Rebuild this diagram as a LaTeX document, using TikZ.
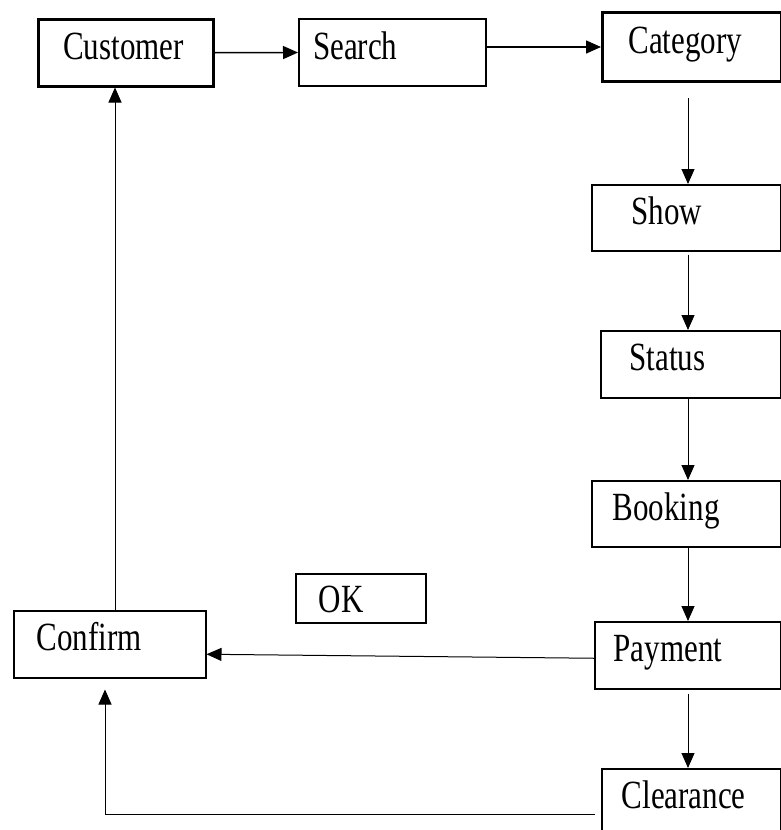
\documentclass[tikz,border=0pt]{standalone}
\usepackage{fontspec}
\setmainfont{Liberation Serif}
\newfontfamily\boxserif[FakeStretch=0.775]{Liberation Serif}
\usetikzlibrary{arrows.meta}
\usetikzlibrary{positioning}

\newcommand{\boxfont}{\boxserif\fontsize{40}{46}\selectfont}

\tikzset{
  box/.style={draw, rectangle, anchor=north west, align=left, font=\boxfont,
    text height=28pt, text depth=15pt, line width=1.5pt},
  flow/.style={-{Triangle[length=15pt,width=13pt]}, line width=1pt},
}

\begin{document}
\begin{tikzpicture}[x=1pt,y=-1pt]
    \useasboundingbox (0,0) rectangle (781,830);
    % Place nodes
    \node [box, line width=2.5pt, inner xsep=25pt, text width=125pt, minimum height=67pt] (customer) at (37,18) {Customer};
    \node [box, line width=2pt, inner xsep=14pt, text width=159pt, minimum height=67pt] (search) at (298,18) {Search};
    \node [box, line width=3pt, inner xsep=26pt, text width=127pt, minimum height=69pt] (category) at (601,11) {Category};
    \node [box, inner xsep=40pt, text width=109pt, minimum height=66pt] (show) at (591,184) {Show};
    \node [box, inner xsep=29pt, text width=122pt, minimum height=67pt] (status) at (600,330) {Status};
    \node [box, inner xsep=21pt, text width=147pt, minimum height=66pt] (booking) at (591,480) {Booking};
    \node [box, inner xsep=19pt, text width=148pt, minimum height=67pt] (payment) at (594,621) {Payment};
    \node [box, inner xsep=20pt, text width=139pt, minimum height=67pt] (clearance) at (601,768) {Clearance};
    \node [box, inner xsep=23pt, text width=146pt, minimum height=67pt] (confirm) at (13,610) {Confirm};
    \node [box, text depth=0pt, inner xsep=23pt, text width=84pt, minimum height=49pt] (ok) at (295,573) {OK};

    % Connector guides
    \coordinate (axis) at (688,0);
    \coordinate (upx) at (115,0);
    \coordinate (turn) at (105,814);

    \draw [flow, line width=1.5pt] (customer.east) -- (search.west);
    \draw [flow, line width=1.5pt] (search.east |- category.west) -- (category.west);
    \draw [flow, shorten <=15pt] (category.south -| axis) -- (show.north -| axis);
    \draw [flow, shorten <=3pt] (show.south -| axis) -- (status.north -| axis);
    \draw [flow] (status.south -| axis) -- (booking.north -| axis);
    \draw [flow] (booking.south -| axis) -- (payment.north -| axis);
    \draw [flow, shorten <=4pt] (payment.south -| axis) -- (clearance.north -| axis);
    \draw [flow] ([yshift=-3pt]payment.west) -- ([yshift=-10pt]confirm.east);
    \draw [flow] (confirm.north -| upx) -- (customer.south -| upx);
    \draw [flow] ([xshift=-6pt]clearance.west |- turn) -- (turn) -- ([yshift=-11pt]confirm.south -| turn);
\end{tikzpicture}
\end{document}
